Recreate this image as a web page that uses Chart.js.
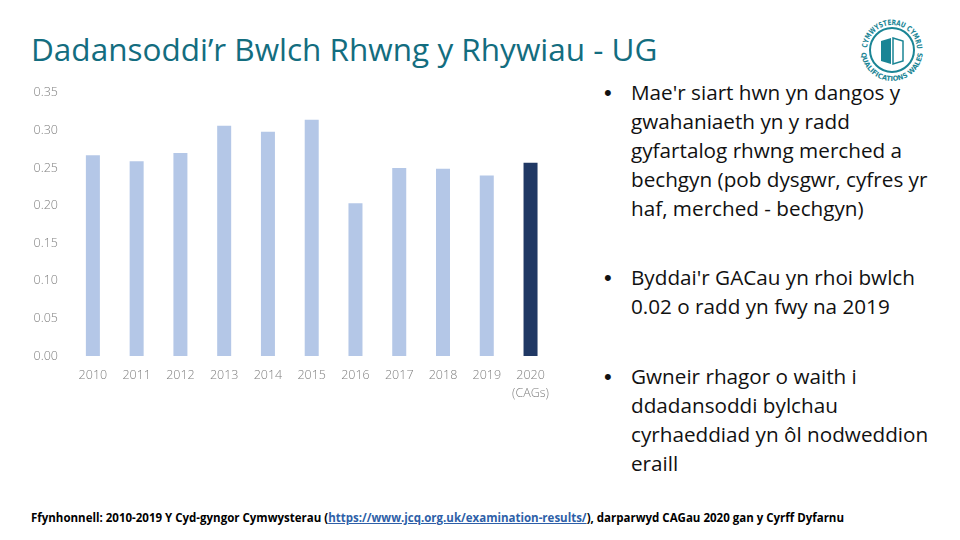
<!DOCTYPE html>
<html>
<head>
<meta charset="utf-8">
<script src="https://cdn.jsdelivr.net/npm/chart.js@4/dist/chart.umd.min.js"></script>
<style>
    body { margin: 0; width: 960px; height: 540px; background: #fff; position: relative; overflow: hidden; font-family: "Open Sans", sans-serif; }
    #title { position: absolute; left: 31px; top: 27px; font-size: 31.5px; color: #136d7f; white-space: nowrap; }
    #chartBox { position: absolute; left: 20px; top: 71px; width: 540px; height: 340px; }
    .bullet { position: absolute; left: 604px; font-size: 20.7px; line-height: 29px; color: #111; }
    .bullet .dot { position: absolute; left: 0; top: 0; font-family: "Liberation Sans", sans-serif; font-size: 22px; }
    .bullet .txt { position: absolute; left: 27px; top: 0; white-space: nowrap; }
    #source { position: absolute; left: 31px; top: 510px; font-size: 11.5px; font-weight: bold; color: #000; white-space: nowrap; }
    #source a { color: #2e5fa8; text-decoration: underline; }
    #logo { position: absolute; left: 854px; top: 12px; overflow: visible; }
</style>
</head>
<body>
<div id="title">Dadansoddi’r Bwlch Rhwng y Rhywiau - UG</div>

<svg id="logo" width="76" height="76" viewBox="0 0 76 76">
    <defs>
        <path id="arcTop" d="M 13,38 A 25,25 0 0,1 63,38"/>
        <path id="arcBottom" d="M 7,38 A 31,31 0 0,0 69,38"/>
    </defs>
    <circle cx="38" cy="38" r="22" fill="none" stroke="#1a8595" stroke-width="2"/>
    <text font-size="7.5" font-weight="bold" fill="#1a8595" font-family="DejaVu Sans Condensed, sans-serif">
        <textPath href="#arcTop" startOffset="2" textLength="75" lengthAdjust="spacingAndGlyphs">CYMWYSTERAU CYMRU</textPath>
    </text>
    <text font-size="7" font-weight="bold" fill="#1a8595" font-family="DejaVu Sans Condensed, sans-serif">
        <textPath href="#arcBottom" startOffset="3" textLength="91" lengthAdjust="spacingAndGlyphs">QUALIFICATIONS WALES</textPath>
    </text>
    <path d="M27,29 L37,26 L37,52 L27,49 Z" fill="#1a8595"/>
    <path d="M39,26 L49,29 L49,49 L39,52 Z" fill="none" stroke="#1a8595" stroke-width="1.5"/>
</svg>

<div id="chartBox"><canvas id="gapChart"></canvas></div>

<div class="bullet" style="top:78px"><span class="dot">•</span><span class="txt">Mae'r siart hwn yn dangos y<br>gwahaniaeth yn y radd<br>gyfartalog rhwng merched a<br>bechgyn (pob dysgwr, cyfres yr<br>haf, merched - bechgyn)</span></div>
<div class="bullet" style="top:263px"><span class="dot">•</span><span class="txt">Byddai'r GACau yn rhoi bwlch<br>0.02 o radd yn fwy na 2019</span></div>
<div class="bullet" style="top:361.5px"><span class="dot">•</span><span class="txt">Gwneir rhagor o waith i<br>ddadansoddi bylchau<br>cyrhaeddiad yn ôl nodweddion<br>eraill</span></div>

<div id="source">Ffynhonnell: 2010-2019 Y Cyd-gyngor Cymwysterau (<a>https://www.jcq.org.uk/examination-results/</a>), darparwyd CAGau 2020 gan y Cyrff Dyfarnu</div>

<script>
    // Gap in average grade, girls minus boys (summer series)
    const years = ['2010', '2011', '2012', '2013', '2014', '2015', '2016', '2017', '2018', '2019', ['2020', '(CAGs)']];
    const gap_values = [0.267, 0.259, 0.270, 0.306, 0.298, 0.314, 0.203, 0.250, 0.249, 0.240, 0.257];
    const y_ticks = [0, 0.05, 0.10, 0.15, 0.20, 0.25, 0.30, 0.35];

    const light = '#b4c7e7';
    const dark = '#203864';
    const bar_colors = gap_values.map((v, i) => i === gap_values.length - 1 ? dark : light);

    const tick_font = {family: 'Open Sans', size: 12.5, weight: '300', lineHeight: 1.4};
    const tick_color = '#7f7f7f';

    new Chart(document.getElementById('gapChart'), {
        type: 'bar',
        data: {
            labels: years,
            datasets: [{
                data: gap_values,
                backgroundColor: bar_colors,
                categoryPercentage: 1,
                barPercentage: 0.32
            }]
        },
        options: {
            responsive: true,
            maintainAspectRatio: false,
            animation: false,
            layout: {padding: {top: 5, right: 0, left: 0, bottom: 0}},
            plugins: {legend: {display: false}, tooltip: {enabled: false}},
            scales: {
                x: {
                    grid: {display: false, drawTicks: false},
                    border: {display: false},
                    ticks: {font: tick_font, color: tick_color, padding: 11, maxRotation: 0, autoSkip: false},
                    afterFit: scale => { scale.height = 55; }
                },
                y: {
                    min: 0,
                    max: 0.35,
                    afterBuildTicks: scale => { scale.ticks = y_ticks.map(v => ({value: v})); },
                    grid: {display: false, drawTicks: false},
                    border: {display: false},
                    ticks: {
                        font: tick_font,
                        color: tick_color,
                        padding: 13,
                        callback: v => v.toFixed(2)
                    },
                    afterFit: scale => { scale.width = 51; }
                }
            }
        }
    });
</script>
</body>
</html>
